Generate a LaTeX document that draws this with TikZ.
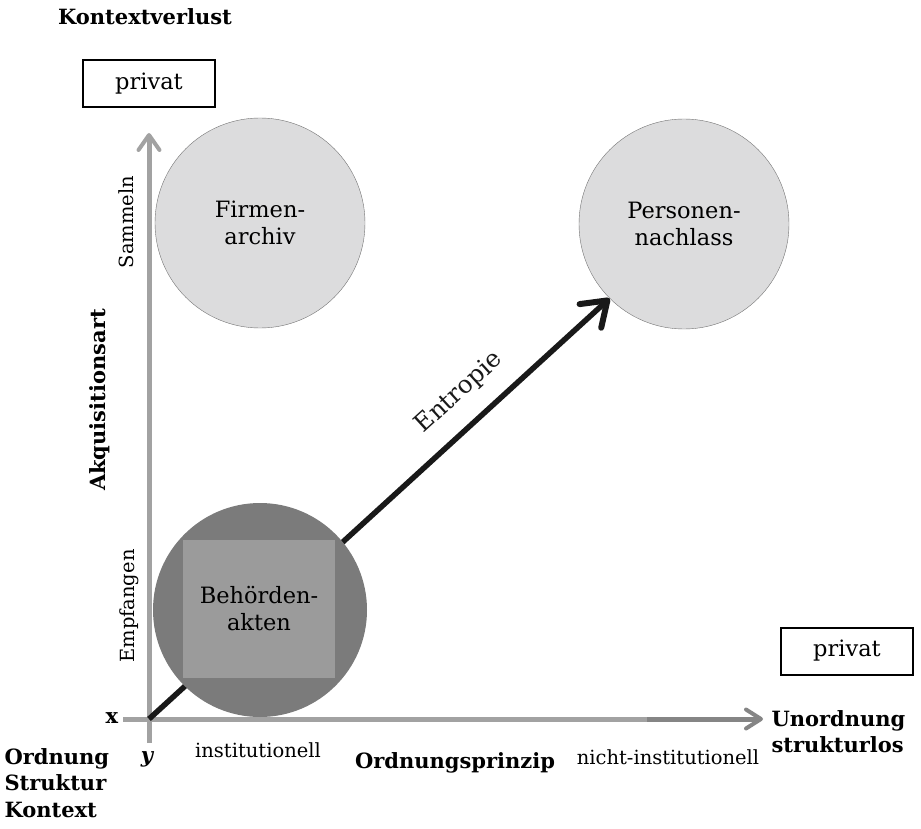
\documentclass[tikz,border=0pt]{standalone}
\usepackage{fontspec}
\setmainfont{DejaVu Serif}
\usetikzlibrary{arrows.meta}
\definecolor{axisgray}{HTML}{A2A2A2}
\definecolor{axisdark}{HTML}{858585}
\definecolor{lightdisc}{HTML}{DCDCDD}
\definecolor{darkdisc}{HTML}{7B7B7B}
\definecolor{innersq}{HTML}{9B9B9B}
\tikzset{
    lbl/.style={font=\fontsize{22.5}{27}\selectfont},
    sublbl/.style={font=\fontsize{19.5}{23}\selectfont},
    hdr/.style={font=\fontsize{21}{26.5}\selectfont\bfseries},
    tagbox/.style={draw, line width=2pt, minimum width=132pt, minimum height=47pt, inner sep=0pt, lbl},
    archdisc/.style={circle, draw=black!55, thin, fill=lightdisc, minimum size=210pt, inner sep=0pt, align=center, lbl},
    axisline/.style={line width=5pt, axisgray},
}
\begin{document}
\begin{tikzpicture}[x=1pt,y=-1pt]
    \useasboundingbox (0,0) rectangle (921,829);

    % axes
    \coordinate (O) at (149,719);
    \coordinate (ytop) at (149,133);
    \coordinate (ybot) at (149,743);
    \coordinate (xleft) at (123,719);
    \coordinate (xmid) at (647,719);
    \coordinate (xtip) at (763,719);
    \draw[axisline, -{Straight Barb[length=15pt,width=21pt,line width=4pt,round]}] (ybot) -- (ytop);
    \draw[axisline] (xleft) -- (xmid);
    \draw[axisline, axisdark, -{Straight Barb[length=15pt,width=19pt,line width=4pt,round]}] (xmid) -- (xtip);

    % archives
    \node[archdisc] (pers) at (684,224) {Personen-\\nachlass};
    \draw[line width=5.5pt, black!90, -{Straight Barb[length=23pt,width=32pt,line width=6pt,round]}]
        (O) -- node[pos=0.72, sloped, above=14pt, font=\fontsize{24.5}{29}\selectfont] (entr) {Entropie} (pers.south west);
    \node[archdisc] (firm) at (260,223) {Firmen-\\archiv};
    \node[circle, fill=darkdisc, minimum size=214pt, inner sep=0pt] (behd) at (260,610) {};
    \node[fill=innersq, minimum width=152pt, minimum height=138pt, align=center, lbl] (behdtxt) at (259,609) {Behörden-\\akten};

    % labels
    \node[hdr] (kv) at (145,17) {Kontextverlust};
    \node[tagbox] (priv1) at (149,84) {privat};
    \node[tagbox] (priv2) at (847,651) {privat};
    \node[hdr, rotate=90] (akq) at (100,400) {Akquisitionsart};
    \node[sublbl, rotate=90] (samm) at (126,222) {Sammeln};
    \node[sublbl, rotate=90] (empf) at (129,606) {Empfangen};
    \node[hdr] (xlab) at (112,718) {x};
    \node[hdr] (ylab) at (147,759) {\itshape y};
    \node[sublbl] (inst) at (258,750) {institutionell};
    \node[sublbl] (ninst) at (668,757) {nicht-institutionell};
    \node[hdr] (oprinz) at (455,763) {Ordnungsprinzip};
    \node[hdr, align=left, anchor=north west] (ordn) at (1,745) {Ordnung\\Struktur\\Kontext};
    \node[hdr, align=left, anchor=north west] (unordn) at (768,707) {Unordnung\\strukturlos};
\end{tikzpicture}
\end{document}
